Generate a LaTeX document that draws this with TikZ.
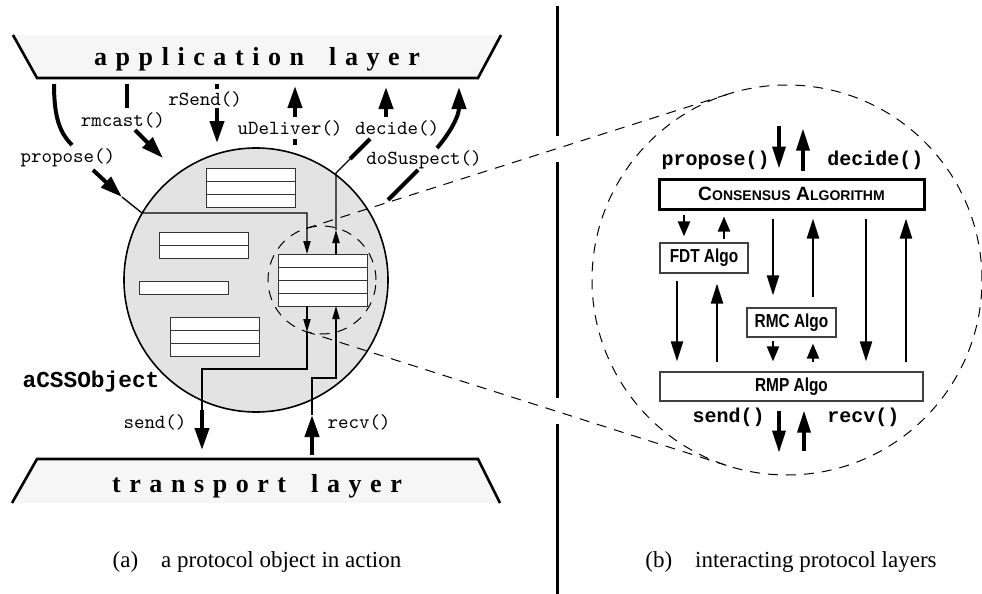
\documentclass[tikz,border=0pt]{standalone}
\usepackage{fontspec}
\setmainfont{Liberation Serif}
\setsansfont{Liberation Sans}
\setmonofont{Liberation Mono}
\newfontfamily\callfont{Latin Modern Mono}
\newfontfamily\layerfont[LetterSpace=33]{Liberation Serif}
\newfontfamily\algofont[FakeStretch=0.82]{Liberation Sans}
\usetikzlibrary{positioning,calc,arrows.meta}

\definecolor{layergray}{gray}{0.965}
\definecolor{objgray}{gray}{0.89}

% hand made small caps, the sans font has none
\newcommand{\bigsc}[2]{{\fontsize{9.6}{11}\selectfont #1}{\fontsize{7}{8}\selectfont #2}}

\begin{document}
\begin{tikzpicture}[x=0.5pt, y=-0.5pt,
        layer/.style={line width=1.3pt},
        object/.style={circle, draw, fill=objgray, line width=0.8pt, minimum size=132pt, inner sep=0pt, outer sep=0pt},
        slot/.style={draw=black!80, fill=white, line width=0.5pt, minimum width=44.5pt, inner sep=0pt, outer sep=0pt},
        ring/.style={circle, draw, line width=0.5pt, dash pattern=on 5pt off 4pt, inner sep=0pt, outer sep=0pt},
        zoomline/.style={line width=0.5pt, dash pattern=on 5pt off 4pt},
        call/.style={font=\fontsize{10}{12}\selectfont\callfont, inner sep=1pt},
        bigcall/.style={font=\fontsize{10}{12}\selectfont\ttfamily\bfseries, inner sep=1pt},
        fatline/.style={line width=2pt},
        fat/.style={line width=2pt, -{Triangle[length=11pt,width=7pt]}},
        wire/.style={line width=0.7pt},
        wirearrow/.style={line width=0.7pt, -{Triangle[length=6.5pt,width=3.6pt]}},
        algo/.style={draw=black!75, fill=white, line width=0.6pt, inner sep=0pt, font=\fontsize{9.4}{11}\selectfont\algofont\bfseries},
        link/.style={line width=1.1pt, -{Triangle[length=10pt,width=6pt]}},
        shortlink/.style={line width=1.1pt, -{Triangle[length=7.5pt,width=6pt]}},
        biglink/.style={line width=1.7pt, -{Triangle[length=11pt,width=6.5pt]}}
    ]
    \useasboundingbox (0,0) rectangle (982,594);

    % Left side - the layers
    \fill[layergray] (13,35) -- (501,35) -- (478,78) -- (37,78) -- cycle;
    \draw[layer] (13,35) -- (37,78) -- (478,78) -- (501,35);
    \node[anchor=base, font=\fontsize{13}{15}\selectfont\layerfont\bfseries] (app) at (257,66) {application\hspace{5pt} layer};
    \fill[layergray] (37,459) -- (478,459) -- (500,503) -- (12,503) -- cycle;
    \draw[layer] (12,503) -- (37,459) -- (478,459) -- (500,503);
    \node[anchor=base, font=\fontsize{13}{15}\selectfont\layerfont\bfseries] (transport) at (257,492) {transport\hspace{5pt} layer};

    % the object with its slots
    \node[object] (obj) at (256,280) {};
    \foreach \nm/\cx/\cy/\rows in {slotA/250.5/187.5/3, slotB/203.5/245.5/2, slotC/183.5/288/1, slotD/214.5/336.5/3, queue/322.5/280/4}{
        \node[slot, minimum height=\rows*6.5pt] (\nm) at (\cx,\cy) {};
        \ifnum\rows>1
            \foreach \r in {2,...,\rows}
                \draw[line width=0.5pt, black!80] ($(\nm.north west)!{(\r-1)/\rows}!(\nm.south west)$) -- ($(\nm.north east)!{(\r-1)/\rows}!(\nm.south east)$);
        \fi
    }
    \node[ring, minimum size=54pt] (zoomring) at (322,280) {};
    \node[font=\fontsize{11.4}{13}\selectfont\ttfamily\bfseries] (objname) at (91,382) {aCSSObject};

    \coordinate (qin) at ($(queue.north)+(-15.5,0)$);
    \coordinate (qout) at ($(queue.north)+(13.5,0)$);
    \coordinate (qsend) at ($(queue.south)+(-15.5,0)$);
    \coordinate (qrecv) at ($(queue.south)+(13.5,0)$);

    % calls from the application layer
    \coordinate (propA) at (54,84);
    \coordinate (propB) at (72,145);
    \coordinate (propC) at (93,170);
    \coordinate (propD) at (122,197);
    \coordinate (propE) at (142,213);
    \draw[fatline] (propA) .. controls (54,118) and (60,133) .. (propB);
    \node[call] (propose) at (68,158) {propose()};
    \draw[fat] (propC) -- (propD);
    \draw[wirearrow] (propD) -- (propE) -| (qin);

    \coordinate (rmA) at (127,84);
    \coordinate (rmB) at (127,108);
    \coordinate (rmC) at (135,130);
    \coordinate (rmD) at (163,158);
    \draw[fatline] (rmA) -- (rmB);
    \node[call] (rmcast) at (123,120) {rmcast()};
    \draw[fat] (rmC) -- (rmD);

    \coordinate (rsA) at (217,84);
    \coordinate (rsB) at (217,89);
    \coordinate (rsC) at (217,108);
    \coordinate (rsD) at (217,143);
    \draw[fatline] (rsA) -- (rsB);
    \node[call] (rsend) at (205,99) {rSend()};
    \draw[fat] (rsC) -- (rsD);

    \coordinate (udA) at (295,145);
    \coordinate (udB) at (295,139);
    \coordinate (udC) at (295,117);
    \coordinate (udD) at (295,86);
    \draw[fatline] (udA) -- (udB);
    \node[call] (udeliver) at (290,128) {uDeliver()};
    \draw[fat] (udC) -- (udD);

    \coordinate (deA) at (336,230);
    \coordinate (deB) at (336,173);
    \coordinate (deC) at (350,159);
    \coordinate (deD) at (370,139);
    \coordinate (deE) at (386,117);
    \coordinate (deF) at (386,87);
    \draw[wirearrow] (qout) -- (deA);
    \draw[wire] (deA) -- (deB) -- (deC);
    \draw[fatline] (deC) -- (deD);
    \node[call] (decide) at (397,128) {decide()};
    \draw[fat] (deE) -- (deF);

    \coordinate (dsA) at (388,200);
    \coordinate (dsB) at (418,170);
    \coordinate (dsC) at (437,148);
    \coordinate (dsD) at (459,87);
    \draw[fatline] (dsA) -- (dsB);
    \node[call] (dosuspect) at (424,160) {doSuspect()};
    \draw[fat] (dsC) .. controls (450,133) and (459,116) .. (dsD);

    % calls to the transport layer
    \coordinate (sdA) at (307,332);
    \coordinate (sdB) at (202,369);
    \coordinate (sdC) at (202,410);
    \coordinate (sdD) at (202,450);
    \draw[wirearrow] (qsend) -- (sdA);
    \draw[wire] (sdA) |- (sdB) -- (sdC);
    \draw[fat] (sdC) -- (sdD);
    \node[call] (send) at (155,422) {send()};

    \coordinate (rvA) at (312,455);
    \coordinate (rvB) at (312,415);
    \coordinate (rvC) at (312,378);
    \draw[fat] (rvA) -- (rvB);
    \draw[wirearrow] (rvB) -- (rvC) -| (qrecv);
    \node[call] (recv) at (359,422) {recv()};

    % separator
    \draw[line width=1.5pt] (557,6) -- (557,136) (557,162) -- (557,398) (557,424) -- (557,594);

    % Right side - the layers inside the object
    \node[ring, minimum size=195pt] (detail) at (787,280) {};
    \draw[zoomline] (zoomring.107.65) -- (detail.107.65);
    \draw[zoomline] (zoomring.252.35) -- (detail.252.35);

    \node[algo, draw=black, line width=1.5pt, minimum width=132.5pt, minimum height=15pt, font=\sffamily\bfseries] (consensus) at (791.5,194) {\bigsc{C}{ONSENSUS} \bigsc{A}{LGORITHM}};
    \node[algo, minimum width=44pt, minimum height=15pt] (fdt) at (704,258) {FDT Algo};
    \node[algo, minimum width=44.5pt, minimum height=14.5pt] (rmc) at (791.5,322.5) {RMC Algo};
    \node[algo, minimum width=131.5pt, minimum height=14.5pt] (rmp) at (791.5,386.5) {RMP Algo};

    \draw[biglink] ($(consensus.north)+(-12.5,-52)$) -- ($(consensus.north)+(-12.5,-9)$);
    \draw[biglink] ($(consensus.north)+(11.5,-7)$) -- ($(consensus.north)+(11.5,-49)$);
    \node[bigcall, anchor=east] (cpropose) at (772,160) {propose()};
    \node[bigcall, anchor=west] (cdecide) at (825,160) {decide()};

    \draw[shortlink] ($(consensus.south -| fdt.center)+(-20,4)$) -- ($(fdt.north)+(-20,-6)$);
    \draw[shortlink] ($(fdt.north)+(20,-3)$) -- ($(consensus.south -| fdt.center)+(20,6)$);
    \draw[link] ($(fdt.south)+(-27,7)$) -- ($(rmp.north -| fdt.center)+(-27,-10)$);
    \draw[link] ($(rmp.north -| fdt.center)+(13,-9)$) -- ($(fdt.south)+(13,10)$);

    \draw[link] ($(consensus.south)+(-18.5,8)$) -- ($(rmc.north)+(-18.5,-12)$);
    \draw[link] ($(rmc.north)+(21.5,-10)$) -- ($(consensus.south)+(21.5,8)$);
    \draw[shortlink] ($(rmc.south)+(-18.5,3)$) -- ($(rmp.north)+(-18.5,-10)$);
    \draw[shortlink] ($(rmp.north)+(21.5,-9)$) -- ($(rmc.south)+(21.5,6)$);

    \draw[link] ($(consensus.south)+(74.5,8)$) -- ($(rmp.north)+(74.5,-10)$);
    \draw[link] ($(rmp.north)+(114.5,-9)$) -- ($(consensus.south)+(114.5,8)$);

    \draw[biglink] ($(rmp.south)+(-12.5,9)$) -- ($(rmp.south)+(-12.5,51)$);
    \draw[biglink] ($(rmp.south)+(12.5,49)$) -- ($(rmp.south)+(12.5,9)$);
    \node[bigcall, anchor=east] (csend) at (767,417) {send()};
    \node[bigcall, anchor=west] (crecv) at (825,417) {recv()};

    % captions
    \node[font=\fontsize{11.5}{13}\selectfont] (capa) at (257,562) {(a)\quad a protocol object in action};
    \node[font=\fontsize{11.5}{13}\selectfont] (capb) at (791,562) {(b)\quad interacting protocol layers};
\end{tikzpicture}
\end{document}
